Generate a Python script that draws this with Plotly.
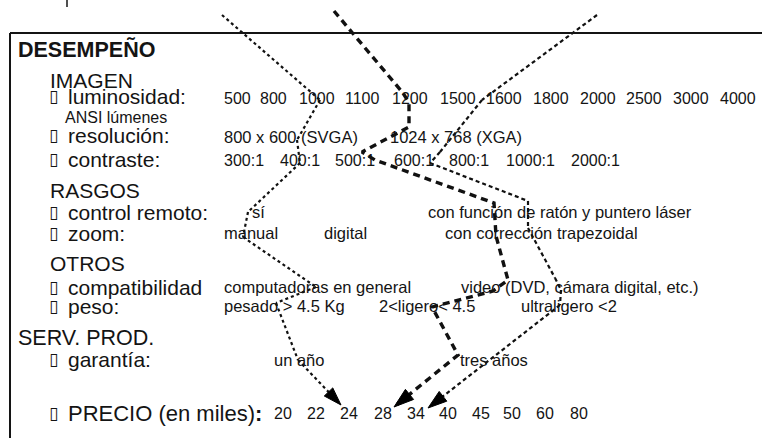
import plotly.graph_objects as go

# ---------------- data ----------------
secciones = ["DESEMPEÑO", "SERV. PROD."]
grupos = ["IMAGEN", "RASGOS", "OTROS"]
atributos = ["luminosidad:", "resolución:", "contraste:", "control remoto:",
             "zoom:", "compatibilidad", "peso:", "garantía:"]
nota_luminosidad = "ANSI lúmenes"
luminosidad = ["500", "800", "1000", "1100", "1200", "1500", "1600",
               "1800", "2000", "2500", "3000", "4000"]
resolucion = ["800 x 600 (SVGA)", "1024 x 768 (XGA)"]
contraste = ["300:1", "400:1", "500:1", "600:1", "800:1", "1000:1", "2000:1"]
control_remoto = ["sí", "con función de ratón y puntero láser"]
zoom = ["manual", "digital", "con corrección trapezoidal"]
compatibilidad = ["computadoras en general", "video (DVD, cámara digital, etc.)"]
peso = ["pesado &gt; 4.5 Kg", "2&lt;ligero&lt; 4.5", "ultraligero &lt;2"]
garantia = ["un año", "tres años"]
precio_titulo = "PRECIO (en miles)"
precios = ["20", "22", "24", "28", "34", "40", "45", "50", "60", "80"]

# three choice paths (picture pixel coordinates, y downwards)
ruta1_x = [222, 320, 297, 300, 248, 243, 316, 276, 298, 341]
ruta1_y = [15, 100, 140, 163, 212, 237, 287, 303, 360, 405]
ruta2_x = [334, 403, 409, 409, 362, 375, 494, 496, 508, 493, 432, 458, 394]
ruta2_y = [11, 93, 103, 127, 152, 160, 203, 236, 280, 291, 307, 355, 407]
ruta3_x = [597, 482, 440, 430, 528, 528, 555, 561, 560, 428]
ruta3_y = [15, 100, 152, 163, 201, 228, 278, 290, 305, 408]

# ---------------- layout positions ----------------
W, H = 762, 438
INK = "#141414"
FONT = "Liberation Sans, Arial, sans-serif"

fig = go.Figure()
ann = []


def txt(x, y, s, size, bold=False, anchor="left", family=FONT):
    ann.append(dict(x=x, y=y, xref="x", yref="y", text=("<b>%s</b>" % s) if bold else s,
                    showarrow=False, xanchor=anchor, yanchor="middle",
                    font=dict(family=family, size=size, color=INK)))


LBL = 21
VAL = 16.5
NUM = 16

# section titles
txt(16, 49, secciones[0], 21.5, bold=True)
txt(16, 338, secciones[1], 21.5)
# groups
for g, yy in zip(grupos, [80, 190, 263]):
    txt(48, yy, g, LBL)
# attribute labels with tofu boxes
lab_y = [96, 135, 159, 212, 233, 287, 306, 359]
for a, yy in zip(atributos, lab_y):
    txt(47, yy, "▯", 17, family="DejaVu Sans")
    txt(66, yy, a, LBL)
txt(63, 117, nota_luminosidad, 16)
txt(47, 413, "▯", 17, family="DejaVu Sans")
txt(66, 413, precio_titulo + "<b>:</b>", 22)

# values
for s, xx in zip(luminosidad, [222, 258, 297, 343, 390, 438, 484, 531, 578, 624, 671, 718]):
    txt(xx, 98, s, NUM)
for s, xx in zip(resolucion, [222, 388]):
    txt(xx, 137, s, VAL)
for s, xx in zip(contraste, [222, 278, 333, 392, 447, 504, 569]):
    txt(xx, 160, s, NUM)
for s, xx in zip(control_remoto, [250, 426]):
    txt(xx, 212, s, VAL)
for s, xx in zip(zoom, [222, 322, 443]):
    txt(xx, 233, s, VAL)
for s, xx in zip(compatibilidad, [222, 459]):
    txt(xx, 287, s, VAL)
for s, xx in zip(peso, [222, 377, 519]):
    txt(xx, 306, s, VAL)
for s, xx in zip(garantia, [272, 458]):
    txt(xx, 360, s, VAL)
for s, xx in zip(precios, [272, 305, 338, 372, 405, 437, 470, 501, 534, 568]):
    txt(xx, 413, s, NUM)

# paths
for xs, ys, w, dash, asz in [(ruta1_x, ruta1_y, 2.2, "3px,3px", 19),
                             (ruta2_x, ruta2_y, 3.4, "7px,5px", 21),
                             (ruta3_x, ruta3_y, 2.2, "4px,3px", 20)]:
    sizes = [0] * (len(xs) - 1) + [asz]
    fig.add_trace(go.Scatter(
        x=xs, y=ys, mode="lines+markers", hoverinfo="skip", showlegend=False,
        line=dict(color="#111111", width=w, dash=dash),
        marker=dict(symbol="arrow", size=sizes, angleref="previous", opacity=1,
                    color="#000000", line=dict(width=1, color="#000000"))))

shapes = [
    dict(type="line", xref="x", yref="y", x0=10, y0=33, x1=W + 5, y1=33,
         line=dict(color=INK, width=2)),
    dict(type="line", xref="x", yref="y", x0=10, y0=33, x1=10, y1=H + 5,
         line=dict(color=INK, width=2)),
    dict(type="line", xref="x", yref="y", x0=67, y0=0, x1=67, y1=7,
         line=dict(color=INK, width=1.5)),
]

fig.update_layout(
    width=W, height=H, margin=dict(l=0, r=0, t=0, b=0),
    paper_bgcolor="white", plot_bgcolor="white",
    xaxis=dict(range=[0, W], visible=False, fixedrange=True),
    yaxis=dict(range=[H, 0], visible=False, fixedrange=True),
    annotations=ann, shapes=shapes, showlegend=False,
)

fig.write_html("out.html", config={"displayModeBar": False},
               post_script="document.body.style.margin='0';document.body.style.overflow='hidden';")
